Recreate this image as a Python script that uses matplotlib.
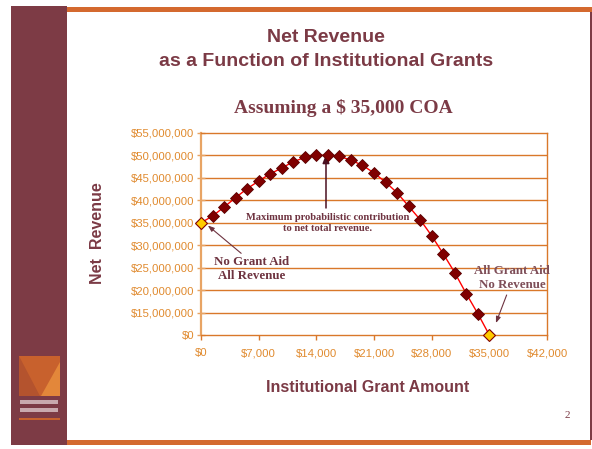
import numpy as np
import matplotlib
matplotlib.use("Agg")
import matplotlib.pyplot as plt
from matplotlib.patches import Rectangle, Polygon
from matplotlib.ticker import FixedLocator, FuncFormatter

# grant amounts ($) and net revenue ($M)
grant = [0, 1400, 2800, 4200, 5600, 7000, 8400, 9800, 11200, 12600, 14000,
         15400, 16800, 18200, 19600, 21000, 22400, 23800, 25200, 26600,
         28000, 29400, 30800, 32200, 33600, 35000]
revenue_m = [35.0, 36.5, 38.5, 40.6, 42.6, 44.3, 45.9, 47.2, 48.6, 49.55, 50.05,
             50.0, 49.8, 48.95, 47.8, 46.1, 44.05, 41.7, 38.7, 35.7,
             32.1, 28.1, 23.9, 19.2, 14.3, 0.0]
x_ticks = [0, 7000, 14000, 21000, 28000, 35000, 42000]
y_ticks_m = [0, 15, 20, 25, 30, 35, 40, 45, 50, 55]

MAROON = "#7B3A45"
ORANGE = "#D9782A"
TICKC = "#E08A2E"

W, H = 592, 449
fig = plt.figure(figsize=(W / 100, H / 100), dpi=100)


def px(x, y):
    # pixel (from top-left) -> figure fraction
    return x / W, 1 - y / H


def rect(x0, y0, x1, y1, color):
    fig.patches.append(Rectangle(px(x0, y1), (x1 - x0) / W, (y1 - y0) / H,
                                 transform=fig.transFigure, color=color, lw=0, zorder=0))


def poly(pts, color):
    fig.patches.append(Polygon([px(*p) for p in pts], closed=True,
                               transform=fig.transFigure, color=color, lw=0, zorder=1))


# slide frame
rect(11, 6, 67, 445, "#7D3B45")
rect(67, 7, 592, 12, "#D4692F")
rect(67, 440, 591, 445, "#D4692F")
rect(590, 12, 591.5, 440, "#7D3B45")

# logo
rect(19, 356, 60, 396, "#C8612D")
poly([(19, 356), (19, 396), (40, 396)], "#B4532E")
poly([(60, 362), (60, 396), (41, 396)], "#E3873A")
rect(20, 400, 58, 404, "#C9A9AD")
rect(20, 408, 58, 412, "#C9A9AD")
rect(19, 418, 60, 420, "#C8612D")

# titles
fig.text(*px(326, 37), "Net Revenue", ha="center", va="center", color=MAROON,
         fontsize=14, fontweight="bold", family="Liberation Sans")
fig.text(*px(326, 61), "as a Function of Institutional Grants", ha="center", va="center",
         color=MAROON, fontsize=14, fontweight="bold", family="Liberation Sans")
fig.text(*px(343, 108), "Assuming a $ 35,000 COA", ha="center", va="center", color=MAROON,
         fontsize=14, fontweight="bold", family="Liberation Serif")
fig.text(*px(567, 415), "2", ha="center", va="center", color=MAROON,
         fontsize=8, family="Liberation Serif")

# chart
ax = fig.add_axes([201 / W, 1 - 335 / H, (547 - 201) / W, (335 - 133) / H])
ax.set_facecolor("none")


def fwd(v):
    v = np.asarray(v, dtype=float)
    return np.where(v >= 15, v, 10 + v / 3.0)


def inv(v):
    v = np.asarray(v, dtype=float)
    return np.where(v >= 15, v, (v - 10) * 3.0)


ax.set_yscale("function", functions=(fwd, inv))
ax.set_ylim(0, 55)
ax.set_xlim(0, 42000)

ax.plot(grant, revenue_m, color="#FF0000", lw=1, zorder=3, clip_on=False)
ax.plot(grant[1:-1], revenue_m[1:-1], ls="none", marker="D", ms=6,
        mfc="#800000", mec="#5A0000", mew=0.6, zorder=4, clip_on=False)
ax.plot([grant[0], grant[-1]], [revenue_m[0], revenue_m[-1]], ls="none", marker="D",
        ms=6, mfc="#FFCC00", mec="#800000", mew=0.8, zorder=5, clip_on=False)

ax.yaxis.set_major_locator(FixedLocator(y_ticks_m))
ax.yaxis.set_minor_locator(FixedLocator([]))
ax.yaxis.set_major_formatter(FuncFormatter(
    lambda v, p: "$0" if v == 0 else "${:,.0f}".format(v * 1e6)))
ax.set_xticks(x_ticks)
ax.set_xticklabels(["$0" if v == 0 else "${:,}".format(v) for v in x_ticks])

for v in y_ticks_m[1:-1]:
    ax.axhline(v, color=ORANGE, lw=1, zorder=1)

for s in ["top", "right", "bottom"]:
    ax.spines[s].set_color(ORANGE)
    ax.spines[s].set_linewidth(1)
ax.spines["left"].set_color("#E8A464")
ax.spines["left"].set_linewidth(1.6)

ax.tick_params(axis="y", direction="inout", length=6, width=1, color="#E8A464",
               labelcolor=TICKC, labelsize=8.2, pad=2)
ax.tick_params(axis="x", direction="out", length=3.5, width=1, color=ORANGE,
               labelcolor=TICKC, labelsize=8.2, pad=6)
ax.yaxis.get_major_ticks()[0].tick1line.set_color("black")
for t in ax.get_xticklabels() + ax.get_yticklabels():
    t.set_family("Liberation Sans")

fig.text(*px(97, 233), "Net  Revenue", rotation=90, ha="center", va="center",
         color=MAROON, fontsize=11.5, fontweight="bold", family="Liberation Sans")
fig.text(*px(368, 387), "Institutional Grant Amount", ha="center", va="center",
         color=MAROON, fontsize=11.5, fontweight="bold", family="Liberation Sans")

# annotations
ANN = "#6E3340"
peak_x = (326 - 201) / 346 * 42000
fig.text(*px(328, 223), "Maximum probabilistic contribution\nto net total revenue.",
         ha="center", va="center", color=ANN, fontsize=7.6, fontweight="bold",
         family="Liberation Serif", linespacing=1.2)
ax.annotate("", xy=(peak_x, 50.2), xycoords="data",
            xytext=(px(326, 208)), textcoords="figure fraction",
            arrowprops=dict(arrowstyle="-|>,head_length=0.5,head_width=0.2",
                            color="#4A1020", lw=1.1, shrinkA=0, shrinkB=0))
ax.annotate("No Grant Aid\nAll Revenue", xy=(700, 34.6), xycoords="data",
            xytext=(px(252, 269)), textcoords="figure fraction",
            ha="center", va="center", color=ANN, fontsize=9.3, fontweight="bold",
            family="Liberation Serif", linespacing=1.2,
            arrowprops=dict(arrowstyle="-|>,head_length=0.4,head_width=0.15",
                            color="#6E3340", lw=0.8, shrinkA=0, shrinkB=1,
                            relpos=(0.4, 1.0)))
ax.annotate("All Grant Aid\nNo Revenue", xy=(35800, 8.0), xycoords="data",
            xytext=(px(512, 278)), textcoords="figure fraction",
            ha="center", va="center", color="#7E4E58", fontsize=9.3, fontweight="bold",
            family="Liberation Serif", linespacing=1.2,
            arrowprops=dict(arrowstyle="-|>,head_length=0.4,head_width=0.15",
                            color="#6E3340", lw=0.8, shrinkA=1, shrinkB=0,
                            relpos=(0.45, 0.0)))

fig.savefig("out.png", dpi=100)
